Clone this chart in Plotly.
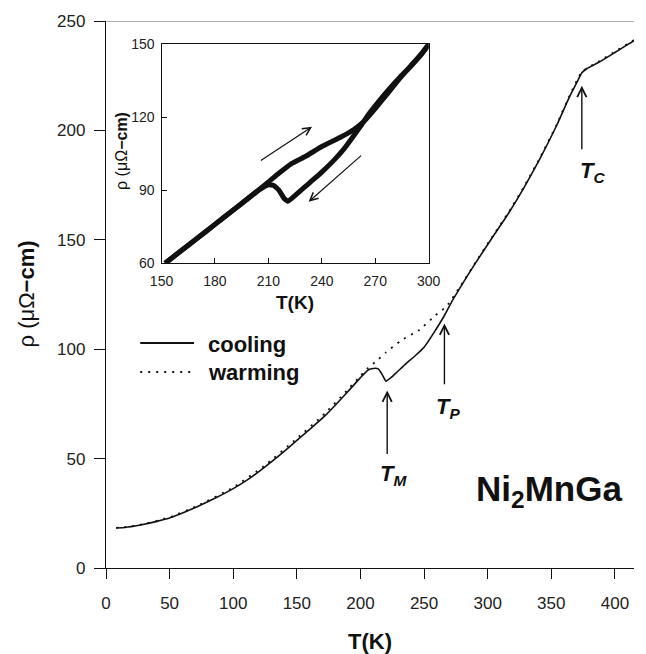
import plotly.graph_objects as go

# ---- main panel data ----
cool_T = [8, 15, 26, 40, 51, 62, 72, 86, 100, 112, 124, 137, 150, 161, 172, 180, 188, 195, 200, 206,
          210, 214, 217, 220, 224, 229, 236, 243, 250, 258, 266, 272, 278, 284, 290, 303, 316, 328, 341,
          354, 364, 370, 374, 378, 387, 400, 408, 415]
cool_rho = [18.3, 18.5, 19.5, 21.3, 23.1, 25.6, 28.1, 32.0, 36.3, 40.6, 45.8, 51.8, 58.3, 63.8, 69.5,
            74.3, 79.3, 83.8, 87.0, 90.5, 91.2, 91.0, 88.5, 85.4, 87.0, 89.7, 93.5, 97.0, 100.9, 107.8,
            115.4, 122.0, 127.8, 133.5, 139.0, 150.5, 161.8, 173.3, 187.0, 202.0, 215.0, 221.8, 226.3,
            228.3, 231.0, 235.6, 238.5, 241.0]

warm_T = [8, 26, 51, 72, 100, 124, 150, 172, 188, 200, 206, 212, 220, 232, 246, 259, 268, 278, 290,
          303, 316, 328, 341, 354, 364, 374, 387, 400, 415]
warm_rho = [18.3, 19.6, 23.4, 28.5, 36.8, 46.5, 59.2, 70.6, 80.3, 87.8, 91.5, 94.3, 98.5, 104.0, 108.7,
            115.5, 119.8, 128.3, 139.3, 150.9, 162.2, 173.7, 187.4, 202.4, 215.4, 226.8, 231.4, 236.0, 241.3]

# ---- inset data ----
in_cool_T = [300, 298, 295, 290, 284, 278, 272, 266, 262, 257, 252, 247, 240, 233, 226, 221, 219, 216,
             213, 210, 205, 195, 185, 175, 165, 158, 152]
in_cool_rho = [150, 147.8, 145.0, 141.0, 136.6, 131.8, 126.6, 121.0, 116.6, 111.5, 106.6, 102.5, 97.5, 93.0,
               88.5, 85.5, 86.5, 90.0, 92.0, 92.3, 90.3, 84.6, 78.9, 73.1, 67.4, 63.5, 60.0]
in_warm_T = [152, 165, 180, 195, 208, 215, 223, 231, 240, 251, 258, 264, 270, 277, 284, 291, 296, 300]
in_warm_rho = [60.0, 67.4, 76.0, 84.6, 92.2, 96.5, 101.0, 104.0, 108.0, 112.0, 115.0, 118.6, 123.6,
               129.8, 136.2, 142.0, 146.2, 150.0]

main_xticks = [0, 50, 100, 150, 200, 250, 300, 350, 400]
main_yticks = [0, 50, 100, 150, 200, 250]
inset_xticks = [150, 180, 210, 240, 270, 300]
inset_yticks = [60, 90, 120, 150]

FONT = "Liberation Sans, Arial, sans-serif"
INK = "#111111"

fig = go.Figure()
fig.add_trace(go.Scatter(x=cool_T, y=cool_rho, mode="lines", name="cooling",
                         line=dict(color=INK, width=1.6, shape="spline", smoothing=0.4),
                         showlegend=False, xaxis="x", yaxis="y"))
fig.add_trace(go.Scatter(x=warm_T, y=warm_rho, mode="lines", name="warming",
                         line=dict(color=INK, width=1.8, dash="2px,6px", shape="spline", smoothing=0.4),
                         showlegend=False, xaxis="x", yaxis="y"))
fig.add_trace(go.Scatter(x=in_cool_T, y=in_cool_rho, mode="lines",
                         line=dict(color=INK, width=5, shape="spline", smoothing=0.3),
                         showlegend=False, xaxis="x2", yaxis="y2"))
fig.add_trace(go.Scatter(x=in_warm_T, y=in_warm_rho, mode="lines",
                         line=dict(color=INK, width=5, shape="spline", smoothing=0.3),
                         showlegend=False, xaxis="x2", yaxis="y2"))

axis_common = dict(showgrid=False, zeroline=False, showline=True, linecolor=INK, linewidth=1.3,
                   tickcolor=INK, tickwidth=1.3)

fig.update_layout(
    width=646, height=654,
    margin=dict(l=106, r=0, t=21, b=86),
    paper_bgcolor="white", plot_bgcolor="white",
    font=dict(family=FONT, color=INK),
    xaxis=dict(range=[0, 415], tickvals=main_xticks, ticks="outside", ticklen=10,
               tickfont=dict(size=17, family=FONT, color="#222"), ticklabelstandoff=9,
               domain=[0, 1], **axis_common),
    yaxis=dict(range=[0, 250], tickvals=main_yticks, ticks="outside", ticklen=11,
               tickfont=dict(size=17, family=FONT, color="#222"), ticklabelstandoff=5,
               domain=[0, 1], **axis_common),
    xaxis2=dict(range=[150, 300], tickvals=inset_xticks, ticks="inside", ticklen=5, mirror=True,
                tickfont=dict(size=14, family=FONT, color="#222"), ticklabelstandoff=5,
                domain=[0.1052, 0.6111], anchor="y2", **axis_common),
    yaxis2=dict(range=[60, 150], tickvals=inset_yticks, ticks="inside", ticklen=5, mirror=True,
                tickfont=dict(size=14, family=FONT, color="#222"), ticklabelstandoff=3,
                domain=[0.557, 0.9574], anchor="x2", **axis_common),
)

# top border line (grey)
fig.add_shape(type="line", xref="paper", yref="y", x0=0, x1=1, y0=250, y1=250,
              line=dict(color="#999999", width=1.6))

ann = []
# axis titles
ann.append(dict(text="<b>T(K)</b>", xref="paper", yref="paper", x=0.5, y=0, yshift=-73,
                yanchor="middle", showarrow=False, font=dict(size=22, family=FONT, color=INK)))
ann.append(dict(text="ρ (μΩ<b>−cm)</b>", xref="paper", yref="paper", x=0, y=0.5, xshift=-80,
                xanchor="center", textangle=-90, showarrow=False,
                font=dict(size=22, family=FONT, color=INK)))
# inset titles
ann.append(dict(text="<b>T(K)</b>", xref="x2", yref="paper", x=225, y=1, yshift=-281,
                yanchor="middle", showarrow=False, font=dict(size=19, family=FONT, color=INK)))
ann.append(dict(text="ρ (μΩ<b>−cm)</b>", xref="paper", yref="y2", x=0.1052, y=106, xshift=-40,
                xanchor="center", textangle=-90, showarrow=False,
                font=dict(size=16, family=FONT, color=INK)))

# transition arrows
for tx, tail, tip in [(221, 51.4, 81.1), (266, 83.3, 111.7), (374, 190.7, 220.4)]:
    ann.append(dict(x=tx, y=tip, ax=tx, ay=tail, xref="x", yref="y", axref="x", ayref="y",
                    showarrow=True, arrowhead=5, arrowsize=1.3, arrowwidth=1.4, arrowcolor=INK,
                    text=""))
for lx, ly, sub in [(226, 42.3, "M"), (269, 73, "P"), (382, 181, "C")]:
    ann.append(dict(text=f"<b><i>T<sub>{sub}</sub></i></b>", x=lx, y=ly, xref="x", yref="y",
                    showarrow=False, font=dict(size=22, family=FONT, color=INK)))

ann.append(dict(text="<b>Ni<sub>2</sub>MnGa</b>", x=348, y=35, xref="x", yref="y",
                showarrow=False, font=dict(size=35, family=FONT, color=INK)))

# inset arrows
ann.append(dict(x=234.5, y=116.1, ax=204.9, ay=101.8, xref="x2", yref="y2", axref="x2", ayref="y2",
                showarrow=True, arrowhead=5, arrowsize=1.3, arrowwidth=1.2, arrowcolor=INK, text=""))
ann.append(dict(x=232.6, y=85.3, ax=262.9, ay=104.8, xref="x2", yref="y2", axref="x2", ayref="y2",
                showarrow=True, arrowhead=5, arrowsize=1.3, arrowwidth=1.2, arrowcolor=INK, text=""))

# legend (manual)
def px_x(p):
    return (p - 106) / 540.0
def px_y(p):
    return (568 - p) / 547.0

fig.add_shape(type="line", xref="paper", yref="paper", x0=px_x(141), x1=px_x(196),
              y0=px_y(343), y1=px_y(343), line=dict(color=INK, width=1.8))
fig.add_shape(type="line", xref="paper", yref="paper", x0=px_x(141), x1=px_x(196),
              y0=px_y(372), y1=px_y(372), line=dict(color=INK, width=1.8, dash="2px,6px"))
ann.append(dict(text="<b>cooling</b>", xref="paper", yref="paper", x=px_x(208), y=px_y(344),
                xanchor="left", yanchor="middle", showarrow=False,
                font=dict(size=22, family=FONT, color=INK)))
ann.append(dict(text="<b>warming</b>", xref="paper", yref="paper", x=px_x(208), y=px_y(372),
                xanchor="left", yanchor="middle", showarrow=False,
                font=dict(size=22, family=FONT, color=INK)))

fig.update_layout(annotations=ann)
fig.write_html("out.html")
